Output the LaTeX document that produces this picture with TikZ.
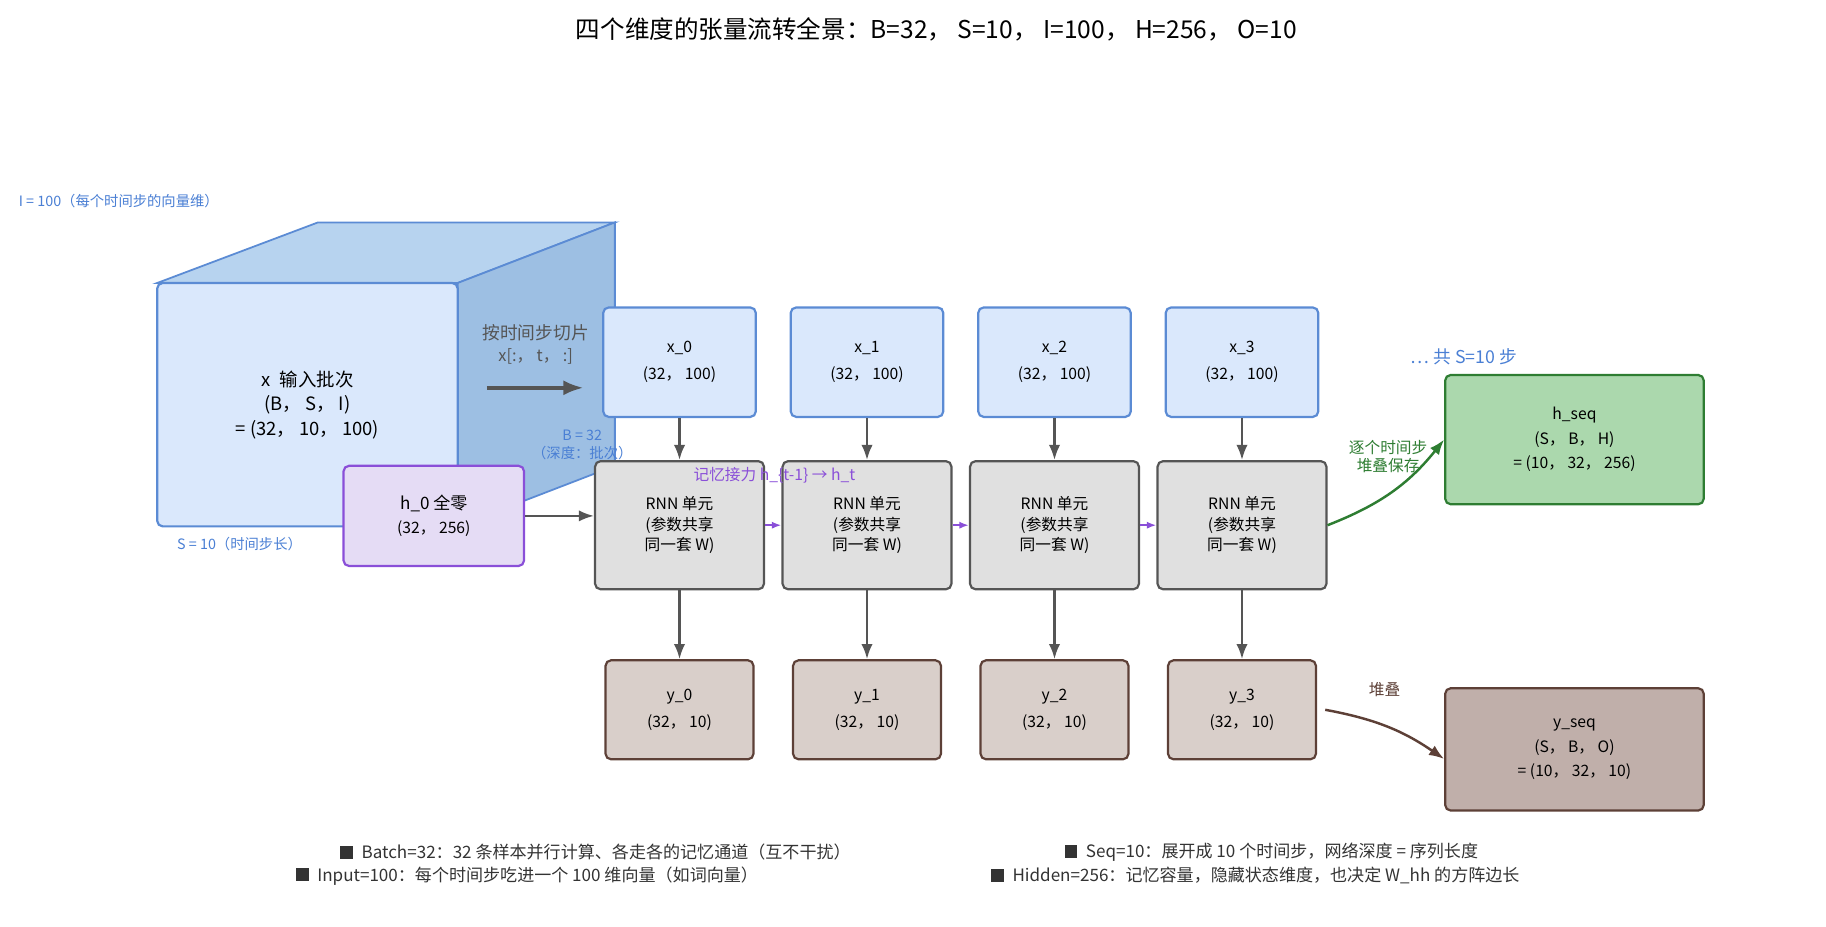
\documentclass[tikz,border=0pt]{standalone}
\usepackage{fontspec}
\setmainfont{Noto Sans CJK SC}
\usetikzlibrary{arrows.meta, positioning}
\definecolor{inblue}{HTML}{DAE8FC}
\definecolor{inedge}{HTML}{5B8BD4}
\definecolor{topblue}{HTML}{B7D3EF}
\definecolor{sideblue}{HTML}{9DBFE3}
\definecolor{cellgray}{HTML}{E0E0E0}
\definecolor{celledge}{HTML}{555555}
\definecolor{outbrown}{HTML}{D9CFCA}
\definecolor{brownedge}{HTML}{5D4037}
\definecolor{hpurple}{HTML}{E5DCF5}
\definecolor{purpedge}{HTML}{8A4FD8}
\definecolor{hgreen}{HTML}{ABD8AD}
\definecolor{greenedge}{HTML}{2E7D32}
\definecolor{yseqfill}{HTML}{C0AFAA}
\definecolor{labelblue}{HTML}{4A7FD4}

\begin{document}
\begin{tikzpicture}[x=0.3mm, y=-0.3mm, >=Latex, font=\fontsize{11.5}{15}\selectfont,
    box/.style={draw, rounded corners=4pt, line width=1.6pt, align=center, inner sep=0pt},
    xbox/.style={box, fill=inblue, draw=inedge, minimum width=39.3mm, minimum height=28.2mm},
    cell/.style={box, fill=cellgray, draw=celledge, minimum width=43.5mm, minimum height=33mm},
    ybox/.style={box, fill=outbrown, draw=brownedge, minimum width=38.1mm, minimum height=25.5mm},
    flow/.style={->, draw=celledge, line width=1.8pt},
    note/.style={font=\fontsize{10.5}{13}\selectfont, text=labelblue, align=center}]

\useasboundingbox (0,0) rectangle (1568,796);

\node (title) at (804,25) {\fontsize{18}{22}\selectfont 四个维度的张量流转全景：B=32， S=10， I=100， H=256， O=10};

% input cube
\draw[inedge, line width=1.3pt, fill=topblue] (135,243) -- (273,191) -- (528,191) -- (393,243) -- cycle;
\draw[inedge, line width=1.3pt, fill=sideblue] (393,243) -- (528,191) -- (528,400) -- (393,452) -- cycle;
\node[box, fill=inblue, draw=inedge, minimum width=77.4mm, minimum height=62.7mm] (cube) at (264,347.5)
    {\fontsize{13.5}{17}\selectfont x\enspace 输入批次\\[3pt]\fontsize{13.5}{17}\selectfont (B， S， I)\\[3pt]\fontsize{13.5}{17}\selectfont = (32， 10， 100)};
\node[note, anchor=west] (dimI) at (12,173) {I = 100（每个时间步的向量维）};
\node[note, anchor=west] (dimS) at (148,467) {S = 10（时间步长）};
\node[note] (dimB) at (500,382) {B = 32\\（深度：批次）};

\node[text=celledge, align=center, font=\fontsize{13}{16}\selectfont] (slice) at (460,296) {按时间步切片\\{\fontsize{12}{14}\selectfont x[:， t， :]}};
\coordinate (sliceA) at (418,333);
\coordinate (sliceB) at (501,333);
\draw[flow, line width=2.6pt] (sliceA) -- (sliceB);

% time steps
\foreach \i/\cx in {0/583.5, 1/744.5, 2/905.5, 3/1066.5} {
    \node[xbox] (x\i) at (\cx,311) {x\_\i\\[5pt](32， 100)};
    \node[cell] (rnn\i) at (\cx,451) {RNN 单元\\(参数共享\\同一套 W)};
    \node[ybox] (y\i) at (\cx,609.5) {y\_\i\\[5pt](32， 10)};
    \draw[flow] (x\i) -- (rnn\i);
    \draw[flow] (rnn\i) -- (y\i);
}
\foreach \a/\b in {0/1, 1/2, 2/3}
    \draw[->, draw=purpedge, line width=1.8pt, >={Latex[length=2.5mm]}] (rnn\a) -- (rnn\b);
\node[text=purpedge, font=\fontsize{11.5}{14}\selectfont] (relay) at (665,408) {记忆接力 h\_\{t-1\} → h\_t};

\node[box, fill=hpurple, draw=purpedge, minimum width=46.5mm, minimum height=25.8mm] (h0) at (372.5,443)
    {\fontsize{12.5}{16}\selectfont h\_0 全零\\[3pt](32， 256)};
\draw[flow] (h0) -- (h0.east -| rnn0.west);

\node[text=labelblue, font=\fontsize{13}{16}\selectfont] (steps) at (1257,306) {… 共 S=10 步};

\node[box, fill=hgreen, draw=greenedge, minimum width=66.6mm, minimum height=33.3mm] (hseq) at (1352,377.5)
    {h\_seq\\[3pt](S， B， H)\\[3pt]= (10， 32， 256)};
\node[box, fill=yseqfill, draw=brownedge, minimum width=66.6mm, minimum height=31.5mm] (yseq) at (1352,643.5)
    {y\_seq\\[3pt](S， B， O)\\[3pt]= (10， 32， 10)};

\draw[->, draw=greenedge, line width=1.8pt] (rnn3.east) to[bend right=15] (hseq.west);
\node[text=greenedge, align=center, font=\fontsize{11.5}{13}\selectfont] (stack) at (1192,392) {逐个时间步\\堆叠保存};
\draw[->, draw=brownedge, line width=1.8pt] ([xshift=6]y3.east) to[bend left=12] ([yshift=-7]yseq.west);
\node[text=brownedge, font=\fontsize{11.5}{14}\selectfont] (stack2) at (1189,592) {堆叠};

% legend
\begin{scope}[font=\fontsize{12.5}{15}\selectfont, text=black!80]
\node[anchor=west] (legB) at (288,732) {\rule{3.3mm}{3.3mm}\enspace Batch=32：32 条样本并行计算、各走各的记忆通道（互不干扰）};
\node[anchor=west] (legS) at (910,732) {\rule{3.3mm}{3.3mm}\enspace Seq=10：展开成 10 个时间步，网络深度 = 序列长度};
\node[anchor=west] (legI) at (250,752) {\rule{3.3mm}{3.3mm}\enspace Input=100：每个时间步吃进一个 100 维向量（如词向量）};
\node[anchor=west] (legH) at (847,752) {\rule{3.3mm}{3.3mm}\enspace Hidden=256：记忆容量，隐藏状态维度，也决定 W\_hh 的方阵边长};
\end{scope}
\end{tikzpicture}
\end{document}
